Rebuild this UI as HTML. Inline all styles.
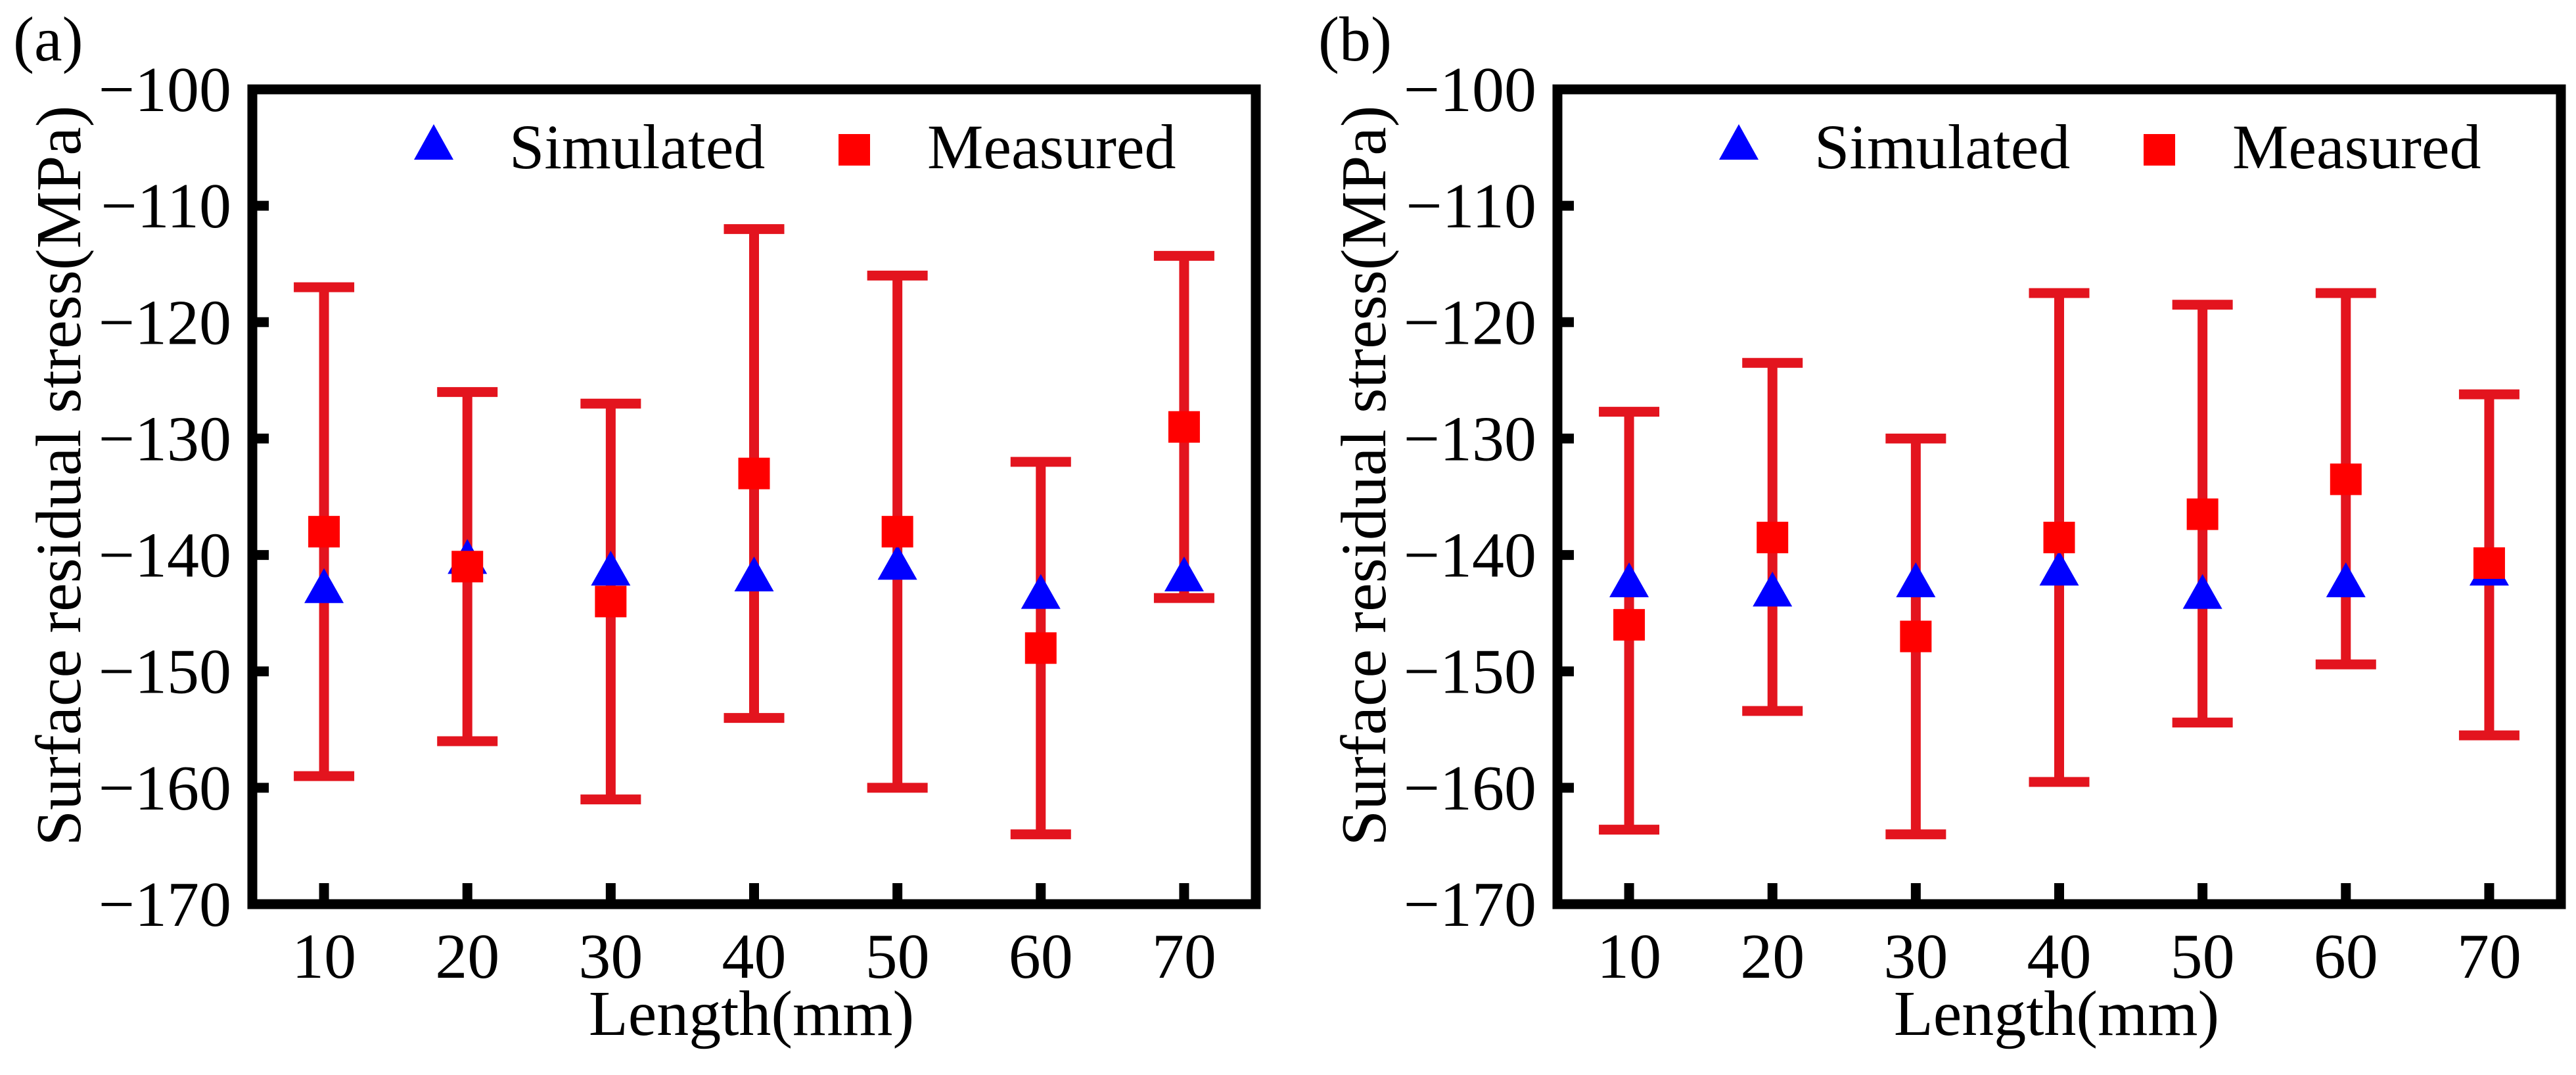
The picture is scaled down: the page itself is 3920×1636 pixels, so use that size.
<!DOCTYPE html>
<html><head><meta charset="utf-8">
<style>
html,body{margin:0;padding:0;background:#fff;}
svg{display:block;font-family:"Liberation Serif",serif;}
</style></head>
<body>
<svg id="chart" width="3920" height="1636" viewBox="0 0 3920 1636" xmlns="http://www.w3.org/2000/svg">
</svg>
<script>
const categories = [10, 20, 30, 40, 50, 60, 70];
const yTicks = [-100, -110, -120, -130, -140, -150, -160, -170];
const simA = [-143, -140.5, -141.5, -142, -141, -143.5, -142];
const measA = [-138, -141, -144, -133, -138, -148, -129];
const upperA = [-117, -126, -127, -112, -116, -132, -114.3];
const lowerA = [-159, -156, -161, -154, -160, -164, -143.7];
const simB = [-142.5, -143.3, -142.5, -141.5, -143.5, -142.5, -141.5];
const measB = [-146, -138.5, -147, -138.5, -136.5, -133.5, -140.7];
const upperB = [-127.7, -123.5, -130, -117.5, -118.5, -117.5, -126.2];
const lowerB = [-163.6, -153.4, -164, -159.5, -154.4, -149.4, -155.5];

const NS = "http://www.w3.org/2000/svg";
const svg = document.getElementById('chart');
function mk(tag, attrs, parent) {
  const e = document.createElementNS(NS, tag);
  for (const k in attrs) e.setAttribute(k, attrs[k]);
  (parent || svg).appendChild(e);
  return e;
}

function panel(ox, label, sim, meas, upper, lower, id) {
  const L = ox, R = ox + 1527, T = 136, B = 1376;
  const xs = v => L + (v - 5) / 70 * (R - L);
  const ys = v => T + (-100 - v) / 70 * (B - T);
  const g = mk('g', {});
  
  

  const pl = mk('text', {x: ox - 364, y: 92, 'font-size': 96, fill: '#000'}, g);
  pl.textContent = label;
  
  

  yTicks.forEach(t => {
    const y = ys(t);
    const tk = mk('line', {x1: L, x2: L + 25, y1: y, y2: y, stroke: '#000', 'stroke-width': 15}, g);
    
    
    const tx = mk('text', {x: L - 32, y: y + 33, 'font-size': 98, 'text-anchor': 'end', fill: '#000'}, g);
    tx.textContent = '\u2212' + Math.abs(t);
    
    
  });
  categories.forEach(c => {
    const x = xs(c);
    const tk = mk('line', {x1: x, x2: x, y1: B, y2: B - 32, stroke: '#000', 'stroke-width': 15}, g);
    
    
    const tx = mk('text', {x: x, y: 1488, 'font-size': 98, 'text-anchor': 'middle', fill: '#000'}, g);
    tx.textContent = c;
    
    
  });
  const xt = mk('text', {x: (L + R) / 2 - 4, y: 1575, 'font-size': 98, 'text-anchor': 'middle', fill: '#000'}, g);
  xt.textContent = 'Length(mm)';
  
  
  const yt = mk('text', {x: 0, y: 0, 'font-size': 98, 'text-anchor': 'middle', fill: '#000',
    transform: 'translate(' + (ox - 262) + ',724) rotate(-90)'}, g);
  yt.textContent = 'Surface residual stress(MPa)';
  
  

  categories.forEach((c, i) => {
    const x = xs(c);
    const eg = mk('g', {stroke: '#e3141e', 'stroke-width': 15, fill: 'none'}, g);
    
    
    mk('line', {x1: x, x2: x, y1: ys(upper[i]), y2: ys(lower[i])}, eg);
    mk('line', {x1: x - 46, x2: x + 46, y1: ys(upper[i]), y2: ys(upper[i])}, eg);
    mk('line', {x1: x - 46, x2: x + 46, y1: ys(lower[i]), y2: ys(lower[i])}, eg);
  });
  categories.forEach((c, i) => {
    const x = xs(c), y = ys(sim[i]) - 6;
    const p = mk('polygon', {points: (x - 30) + ',' + (y + 26) + ' ' + (x + 30) + ',' + (y + 26) + ' ' + x + ',' + (y - 27), fill: '#0000ff'}, g);
    
    
  });
  categories.forEach((c, i) => {
    const x = xs(c), y = ys(meas[i]);
    const r = mk('rect', {x: x - 24, y: y - 24, width: 48, height: 48, fill: '#ff0000'}, g);
    
    
  });

  const fr = mk('rect', {x: L, y: T, width: R - L, height: B - T, fill: 'none', stroke: '#000', 'stroke-width': 15}, g);
  
  

  const lg = mk('g', {}, g);
  
  
  const d = ox - 384;
  const lt = mk('polygon', {points: (630 + d) + ',243 ' + (690 + d) + ',243 ' + (660 + d) + ',189', fill: '#0000ff'}, lg);
  
  
  const ls = mk('text', {x: 775 + d, y: 256, 'font-size': 96, fill: '#000'}, lg);
  ls.textContent = 'Simulated';
  
  
  const lm = mk('rect', {x: 1276 + d, y: 204, width: 48, height: 48, fill: '#ff0000'}, lg);
  
  
  const lml = mk('text', {x: 1411 + d, y: 256, 'font-size': 96, fill: '#000'}, lg);
  lml.textContent = 'Measured';
  
  
}

panel(384, '(a)', simA, measA, upperA, lowerA, 'a');
panel(2370, '(b)', simB, measB, upperB, lowerB, 'b');
</script>
</body></html>
